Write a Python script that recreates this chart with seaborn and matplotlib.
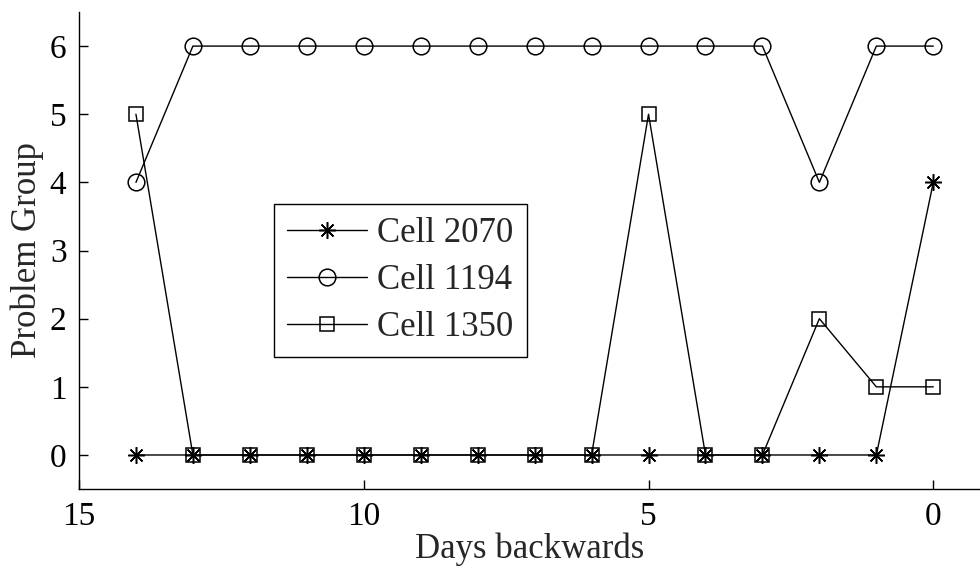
import matplotlib
matplotlib.use("Agg")
import matplotlib.pyplot as plt
import seaborn as sns
import pandas as pd

# Days counted backwards from today
days = [14, 13, 12, 11, 10, 9, 8, 7, 6, 5, 4, 3, 2, 1, 0]

# Problem group assigned to each cell per day
cell_2070 = [0, 0, 0, 0, 0, 0, 0, 0, 0, 0, 0, 0, 0, 0, 4]
cell_1194 = [4, 6, 6, 6, 6, 6, 6, 6, 6, 6, 6, 6, 4, 6, 6]
cell_1350 = [5, 0, 0, 0, 0, 0, 0, 0, 0, 5, 0, 0, 2, 1, 1]

series_labels = ["Cell 2070", "Cell 1194", "Cell 1350"]
x_ticks = [0, 5, 10, 15]
y_ticks = [0, 1, 2, 3, 4, 5, 6]

sns.set_theme(style="ticks")
plt.rcParams["font.family"] = ["Liberation Serif", "DejaVu Serif"]

fig = plt.figure(figsize=(9.8, 5.72), dpi=100)
ax = fig.add_axes([0.0806, 0.145, 0.9194, 0.834])

styles = [
    dict(marker=(8, 2, 0), markersize=12, markeredgewidth=1.1),
    dict(marker="o", markersize=12, markerfacecolor="none", markeredgewidth=1.1),
    dict(marker="s", markersize=9.5, markerfacecolor="none", markeredgewidth=1.1),
]

for values, label, st in zip([cell_2070, cell_1194, cell_1350], series_labels, styles):
    df = pd.DataFrame({"day": days, "group": values})
    sns.lineplot(data=df, x="day", y="group", ax=ax, color="black",
                 linewidth=1.0, label=label, markeredgecolor="black",
                 sort=False, **st)

ax.set_xlim(15, -0.82)
ax.set_ylim(-0.5, 6.5)
ax.set_xticks(x_ticks)
ax.set_yticks(y_ticks)
ax.set_xticklabels([str(t) for t in x_ticks])
ax.set_yticklabels([str(t) for t in y_ticks])
ax.tick_params(direction="in", length=6.5, width=1.0, labelsize=24, colors="black", pad=9)
ax.set_xlabel("Days backwards", fontsize=25, labelpad=0)
ax.set_ylabel("Problem Group", fontsize=25, labelpad=4)

for side in ["top", "right"]:
    ax.spines[side].set_visible(False)
for side in ["left", "bottom"]:
    ax.spines[side].set_color("black")
    ax.spines[side].set_linewidth(1.0)

leg = ax.legend(loc="upper left", bbox_to_anchor=(0.2796, 0.6434),
                bbox_transform=fig.transFigure, borderaxespad=0,
                fontsize=25, frameon=True, fancybox=False, edgecolor="black",
                handlelength=2.3, handletextpad=0.3, labelspacing=0.4,
                borderpad=0.38)
leg.get_frame().set_linewidth(1.0)
leg.get_frame().set_alpha(1.0)

fig.savefig("out.png", dpi=100)
